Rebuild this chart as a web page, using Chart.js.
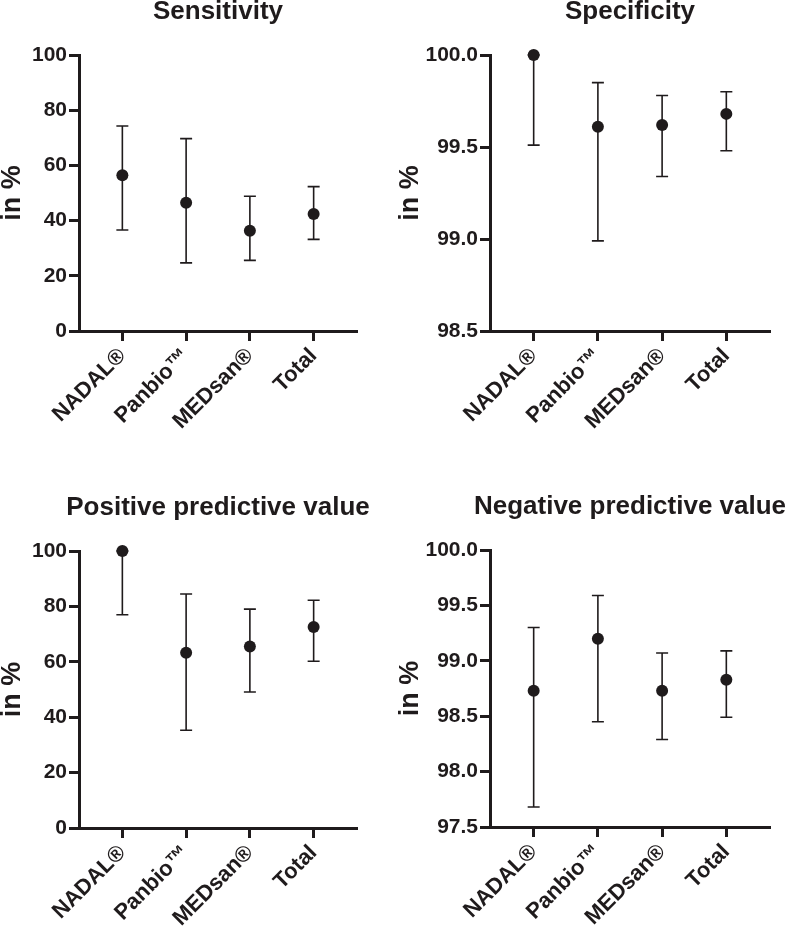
<!DOCTYPE html>
<html>
<head>
<meta charset="utf-8">
<script src="https://cdn.jsdelivr.net/npm/chart.js@4.4.1/dist/chart.umd.min.js"></script>
<style>
  body { margin: 0; background: #fff; }
  .panel { position: absolute; }
</style>
</head>
<body>
<canvas id="sens" class="panel" width="395" height="463" style="left:0;top:0"></canvas>
<canvas id="spec" class="panel" width="392" height="463" style="left:398px;top:0"></canvas>
<canvas id="ppv" class="panel" width="395" height="464" style="left:0;top:463px"></canvas>
<canvas id="npv" class="panel" width="392" height="464" style="left:398px;top:463px"></canvas>
<script>
// 🔹 DATA
const categories = ["NADAL®", "Panbio™", "MEDsan®", "Total"];

const sensitivity     = [56.4, 46.5, 36.3, 42.4];
const sensitivityLow  = [36.6, 24.7, 25.6, 33.2];
const sensitivityHigh = [74.3, 69.7, 48.8, 52.3];

const specificity     = [100.0, 99.61, 99.62, 99.68];
const specificityLow  = [99.51, 98.99, 99.34, 99.48];
const specificityHigh = [100.0, 99.85, 99.78, 99.80];

const ppv     = [100, 63.3, 65.5, 72.6];
const ppvLow  = [77.0, 35.3, 49.1, 60.2];
const ppvHigh = [100, 84.5, 79.0, 82.2];

const npv     = [98.73, 99.20, 98.73, 98.83];
const npvLow  = [97.68, 98.45, 98.29, 98.49];
const npvHigh = [99.30, 99.59, 99.07, 99.09];

const percentTicks = [0, 20, 40, 60, 80, 100];
const specTicks = [98.5, 99.0, 99.5, 100.0];
const npvTicks = [97.5, 98.0, 98.5, 99.0, 99.5, 100.0];

const ink = "#1f1b1c";
Chart.defaults.font.family = "'Liberation Sans', Arial, sans-serif";
Chart.defaults.color = ink;


// 🔹 ERROR BARS (drawn under the points, through the chart's scales)
const errorBars = {
    id: "errorBars",
    beforeDatasetsDraw(chart, args, opts) {
        const ctx = chart.ctx;
        const x = chart.scales.x, y = chart.scales.y;
        ctx.save();
        ctx.strokeStyle = ink;
        ctx.lineWidth = 1.6;
        opts.low.forEach((lo, i) => {
            const px = x.getPixelForValue(i + 1);
            const yLo = y.getPixelForValue(lo);
            const yHi = y.getPixelForValue(opts.high[i]);
            ctx.beginPath();
            ctx.moveTo(px, yLo); ctx.lineTo(px, yHi);
            ctx.moveTo(px - 6, yLo); ctx.lineTo(px + 6, yLo);
            ctx.moveTo(px - 6, yHi); ctx.lineTo(px + 6, yHi);
            ctx.stroke();
        });
        ctx.restore();
    }
};

// 🔹 TITLE centred over the plot area
const panelTitle = {
    id: "panelTitle",
    afterDraw(chart, args, opts) {
        const ctx = chart.ctx;
        const area = chart.chartArea;
        ctx.save();
        ctx.font = "bold 26px 'Liberation Sans', Arial, sans-serif";
        ctx.fillStyle = ink;
        ctx.textAlign = "center";
        ctx.textBaseline = "alphabetic";
        ctx.fillText(opts.text, (area.left + area.right) / 2, area.top - 36);
        ctx.restore();
    }
};


function makePanel(id, title, values, low, high, yMin, yMax, yTicks, decimals, area) {
    const canvas = document.getElementById(id);
    const W = canvas.width, H = canvas.height;

    return new Chart(canvas, {
        type: "scatter",
        data: {
            datasets: [{
                data: values.map((v, i) => ({ x: i + 1, y: v })),
                pointRadius: 6,
                pointBackgroundColor: ink,
                pointBorderColor: ink,
                pointBorderWidth: 0,
                clip: false
            }]
        },
        options: {
            responsive: false,
            animation: false,
            devicePixelRatio: 1,
            layout: { padding: { top: area.top, right: W - area.right, left: 0, bottom: 0 } },
            plugins: {
                legend: { display: false },
                tooltip: { enabled: false },
                errorBars: { low: low, high: high },
                panelTitle: { text: title }
            },
            scales: {
                x: {
                    type: "linear",
                    min: 0.32,
                    max: 4.68,
                    afterBuildTicks: s => { s.ticks = categories.map((c, i) => ({ value: i + 1 })); },
                    afterFit: s => { s.height = H - area.bottom; },
                    border: { display: true, width: 3, color: ink },
                    grid: { drawOnChartArea: false, drawTicks: true, tickLength: 10, tickWidth: 3, tickColor: ink },
                    ticks: {
                        autoSkip: false,
                        minRotation: 45,
                        maxRotation: 45,
                        padding: 2,
                        font: { size: 22, weight: "bold" },
                        callback: v => categories[v - 1]
                    }
                },
                y: {
                    min: yMin,
                    max: yMax,
                    afterBuildTicks: s => { s.ticks = yTicks.map(v => ({ value: v })); },
                    afterFit: s => { s.width = area.left; },
                    border: { display: true, width: 3, color: ink },
                    grid: { drawOnChartArea: false, drawTicks: true, tickLength: 10, tickWidth: 3, tickColor: ink },
                    ticks: {
                        padding: 2,
                        font: { size: 21, weight: "bold" },
                        callback: v => v.toFixed(decimals)
                    },
                    title: {
                        display: true,
                        text: "in %",
                        padding: { top: -4, bottom: 0 },
                        font: { size: 27, weight: "bold" }
                    }
                }
            }
        },
        plugins: [errorBars, panelTitle]
    });
}

makePanel("sens", "Sensitivity", sensitivity, sensitivityLow, sensitivityHigh,
          0, 100, percentTicks, 0, { left: 79, top: 55, right: 357, bottom: 331 });
makePanel("spec", "Specificity", specificity, specificityLow, specificityHigh,
          98.5, 100, specTicks, 1, { left: 92, top: 55, right: 372, bottom: 331 });
makePanel("ppv", "Positive predictive value", ppv, ppvLow, ppvHigh,
          0, 100, percentTicks, 0, { left: 79, top: 88, right: 357, bottom: 365 });
makePanel("npv", "Negative predictive value", npv, npvLow, npvHigh,
          97.5, 100, npvTicks, 1, { left: 92, top: 87, right: 372, bottom: 364 });
</script>
</body>
</html>
